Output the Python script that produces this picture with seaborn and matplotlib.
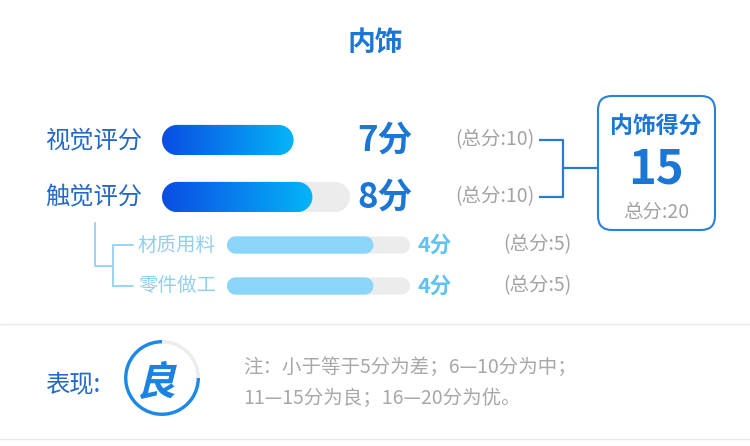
import numpy as np
import seaborn as sns
import matplotlib
matplotlib.use("Agg")
import matplotlib.pyplot as plt
from matplotlib.patches import FancyBboxPatch, PathPatch, Polygon
from matplotlib.colors import LinearSegmentedColormap
from matplotlib.textpath import TextPath
from matplotlib.font_manager import FontProperties
from matplotlib.transforms import Affine2D, IdentityTransform

# data
title = "内饰"
main_labels = ["视觉评分", "触觉评分"]
main_scores = [7, 8]
main_totals = [10, 10]
main_track = [0, 10]          # the first bar shows no grey track in the reference
sub_labels = ["材质用料", "零件做工"]
sub_scores = [4, 4]
sub_totals = [5, 5]
box_title = "内饰得分"
total_score = 15
total_max = 20
grade_label = "表现:"
grade = "良"
note_lines = ["注：小于等于5分为差；6—10分为中；", "11—15分为良；16—20分为优。"]

sns.set_theme(style="white")
plt.rcParams["font.family"] = ["Noto Sans CJK SC", "DejaVu Sans"]

W, H = 750, 446
fig = plt.figure(figsize=(W / 100, H / 100), dpi=100)
fig.patch.set_facecolor("white")

# background axes in pixel coordinates for text and decorations
bg = fig.add_axes([0, 0, 1, 1])
bg.set_xlim(0, W)
bg.set_ylim(H, 0)
bg.axis("off")

BLUE = "#1b76d6"
DARK = "#2468c8"
LIGHT = "#8ad5f8"
GREY = "#a3a3a3"
TRACK = "#ececec"
grad = LinearSegmentedColormap.from_list("g", ["#0a4de3", "#05b5f8"])


def px_axes(x0, x1, y0, y1):
    return fig.add_axes([x0 / W, 1 - y1 / H, (x1 - x0) / W, (y1 - y0) / H])


def pill(x, y, w, h, sx, sy):
    # pill outline in data units, with true semicircular ends on screen
    r = h * sy / 2
    L = w * sx
    yc = y + h / 2
    t = np.linspace(np.pi / 2, 3 * np.pi / 2, 40)
    left = np.c_[r + r * np.cos(t), r * np.sin(t)]
    t2 = np.linspace(-np.pi / 2, np.pi / 2, 40)
    right = np.c_[L - r + r * np.cos(t2), r * np.sin(t2)]
    pts = np.vstack([left, right])
    return np.c_[x + pts[:, 0] / sx, yc + pts[:, 1] / sy]


def round_bars(ax, patches, width_px, height_px, xmax, color=None, cmap=None, z=2):
    sx = width_px / xmax
    sy = height_px / 2.0
    for p in list(patches):
        x, y, w, h = p.get_x(), p.get_y(), p.get_width(), p.get_height()
        p.remove()
        if w <= 0:
            continue
        poly = Polygon(pill(x, y, w, h, sx, sy), closed=True, linewidth=0,
                       facecolor=color if color else "none", zorder=z)
        ax.add_patch(poly)
        if cmap is not None:
            im = ax.imshow(np.linspace(0, 1, 256).reshape(1, -1), cmap=cmap, aspect="auto",
                           extent=[x, x + w, y + h, y], zorder=z + 1, interpolation="bilinear")
            im.set_clip_path(poly)


def bar_group(x0, x1, y0, y1, labels, scores, tracks, xmax, bw, fill_color=None, cmap=None):
    ax = px_axes(x0, x1, y0, y1)
    sns.barplot(x=tracks, y=labels, orient="h", ax=ax, width=bw, color=TRACK)
    round_bars(ax, list(ax.patches), x1 - x0, y1 - y0, xmax, color=TRACK, z=1)
    n = len(ax.patches)
    sns.barplot(x=scores, y=labels, orient="h", ax=ax, width=bw, color=fill_color or "#0a4de3")
    fills = list(ax.patches)[n:]
    round_bars(ax, fills, x1 - x0, y1 - y0, xmax, color=fill_color, cmap=cmap, z=2)
    ax.set_xlim(0, xmax)
    ax.set_ylim(1.5, -0.5)
    ax.axis("off")
    return ax


# main bars: rows centred at y=140 and 197
bar_group(162, 350, 111.5, 225.5, main_labels, main_scores, main_track, 10, 0.53, cmap=grad)
# sub bars: rows centred at y=245 and 286
bar_group(227, 410, 224.5, 306.5, sub_labels, sub_scores, sub_totals, 5, 0.42, fill_color=LIGHT)

# title
bg.text(375, 44, title, ha="center", va="center", fontsize=20, fontweight="bold", color=BLUE)

# main rows text
for yc, lab, sc, tot in zip([140, 197], main_labels, main_scores, main_totals):
    bg.text(45, yc, lab, ha="left", va="center", fontsize=17.5, color=DARK)
    bg.text(357, yc, f"{sc}分", ha="left", va="center", fontsize=25, fontweight="bold", color=BLUE)
    bg.text(455, yc, f"(总分:{tot})", ha="left", va="center", fontsize=14, color=GREY,
            fontweight="light")
    bg.plot([539, 563], [yc, yc], color="#2a7bd0", lw=1.6, solid_capstyle="butt")
bg.plot([563, 563], [140, 197], color="#2a7bd0", lw=1.6)
bg.plot([563, 598], [168, 168], color="#2a7bd0", lw=1.6)

# sub rows text
for yc, lab, sc, tot in zip([245, 286], sub_labels, sub_scores, sub_totals):
    bg.text(138, yc, lab, ha="left", va="center", fontsize=14, color="#8fd0f0", fontweight="light")
    bg.text(418, yc, f"{sc}分", ha="left", va="center", fontsize=15.5, fontweight="bold",
            color="#5ec2f2")
    bg.text(503, yc, f"(总分:{tot})", ha="left", va="center", fontsize=14, color=GREY,
            fontweight="light")
    bg.plot([113, 133], [yc, yc], color="#9ad4f2", lw=1.4)
bg.plot([113, 113], [245, 286], color="#9ad4f2", lw=1.4)
bg.plot([95, 95], [223, 266], color="#9ad4f2", lw=1.4)
bg.plot([95, 113], [266, 266], color="#9ad4f2", lw=1.4)

# score box
box = FancyBboxPatch((598, 96), 117, 134, boxstyle="round,pad=0,rounding_size=14",
                     facecolor="white", edgecolor="#2a80d8", linewidth=1.5, zorder=3)
bg.add_patch(box)
bg.text(656, 126, box_title, ha="center", va="center", fontsize=16.5, fontweight="bold",
        color=BLUE, zorder=4)
bg.text(656, 170, str(total_score), ha="center", va="center", fontsize=34, fontweight="bold",
        color=BLUE, zorder=4)
bg.text(656, 212, f"总分:{total_max}", ha="center", va="center", fontsize=14, color=GREY,
        fontweight="light", zorder=4)

# separator lines for the bottom strip
bg.plot([0, W], [324, 324], color="#e9e9e9", lw=1)
bg.plot([0, W], [439, 439], color="#e9e9e9", lw=1)

# grade ring
bg.text(45, 384, grade_label, ha="left", va="center", fontsize=17.5, color=DARK)
ring = px_axes(162 - 47.5, 162 + 47.5, 378 - 47.5, 378 + 47.5)
ring.pie([total_score, total_max - total_score], colors=["#1e88e5", TRACK], startangle=90,
         counterclock=True, radius=1.0, wedgeprops=dict(width=0.09, linewidth=0))
ring.set_xlim(-1.25, 1.25)
ring.set_ylim(-1.25, 1.25)
ring.set_aspect("equal")
ring.axis("off")

# slanted grade character, drawn in display pixels
tp = TextPath((0, 0), grade, size=40, prop=FontProperties(family="Noto Sans CJK SC", weight="bold"))
ext = tp.get_extents()
cx, cy = (ext.x0 + ext.x1) / 2, (ext.y0 + ext.y1) / 2
tr = Affine2D().translate(-cx, -cy).skew_deg(14, 0).translate(161, H - 380)
bg.add_patch(PathPatch(tr.transform_path(tp), facecolor="#1c82e2", edgecolor="none",
                       transform=IdentityTransform()))

# note
for yc, line in zip([367, 398], note_lines):
    bg.text(243, yc, line, ha="left", va="center", fontsize=14, color="#a8a8a8",
            fontweight="light")

fig.savefig("out.png", dpi=100, facecolor="white")
